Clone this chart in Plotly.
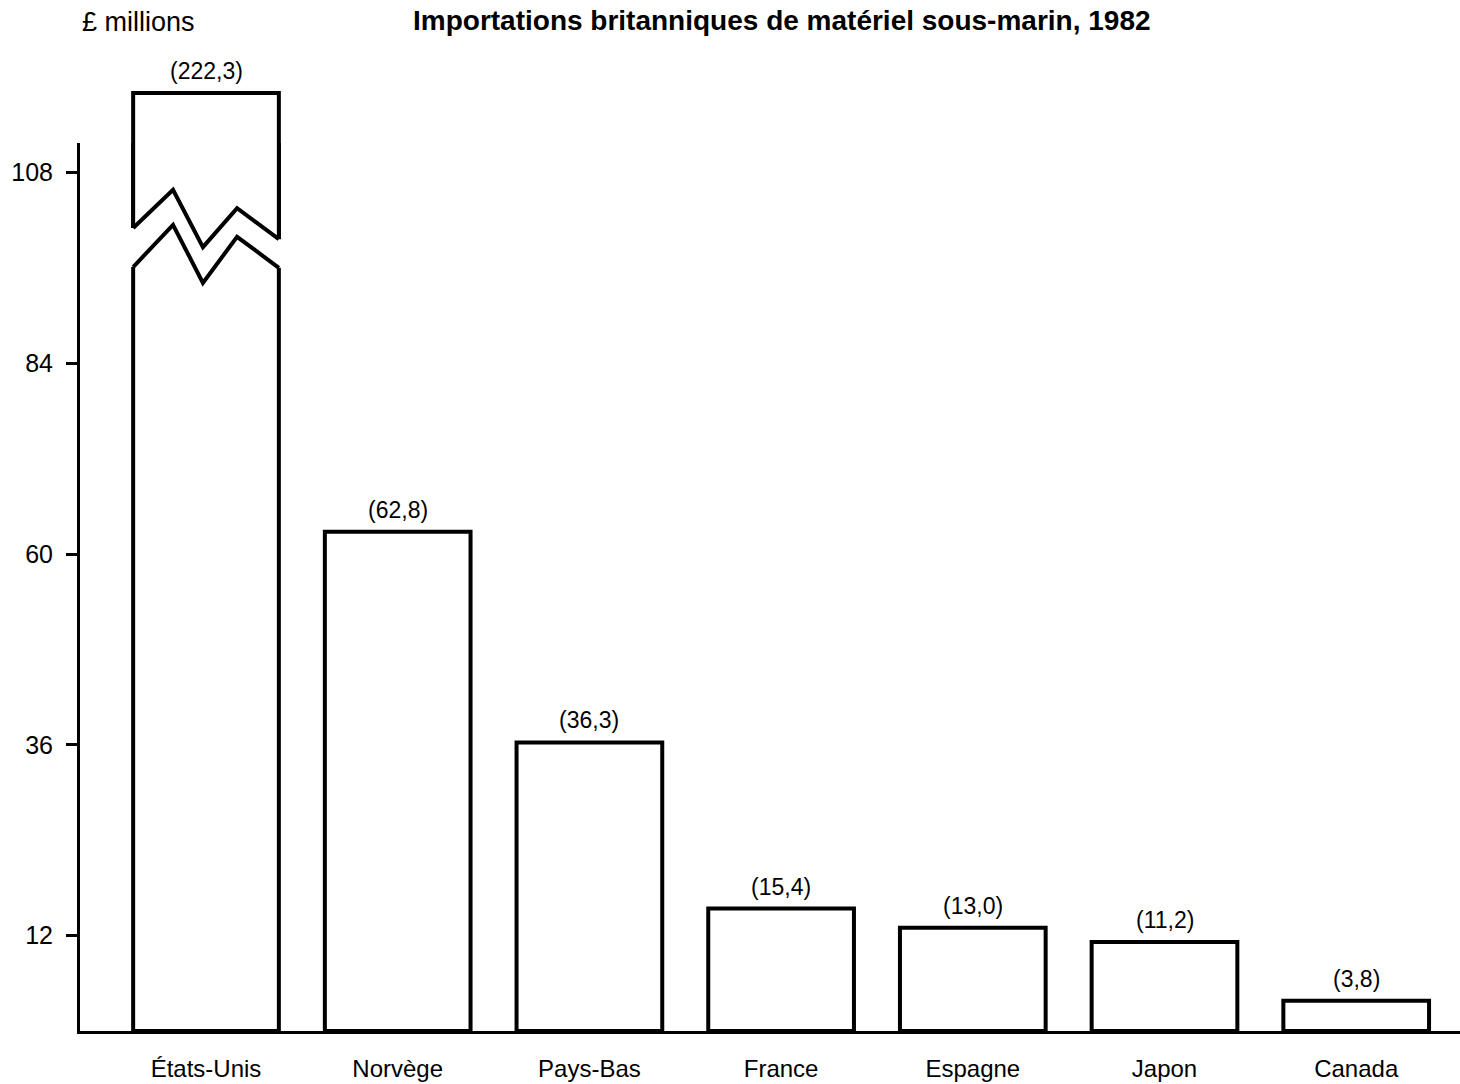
import plotly.graph_objects as go

# ---- data -------------------------------------------------------------
countries = ["États-Unis", "Norvège", "Pays-Bas", "France", "Espagne", "Japon", "Canada"]
values = [222.3, 62.8, 36.3, 15.4, 13.0, 11.2, 3.8]
value_labels = ["(222,3)", "(62,8)", "(36,3)", "(15,4)", "(13,0)", "(11,2)", "(3,8)"]
y_ticks = [12, 36, 60, 84, 108]

# ---- page geometry ------------------------------------------------------
W, H = 1460, 1084
M_L, M_R, M_T, M_B = 80, 0, 60, 53
PLOT_H = H - M_T - M_B
PX_PER_UNIT = 7.95          # vertical scale of the value axis
BAR_W = 0.76
FONT = "Liberation Sans, Arial, sans-serif"

def py_to_paper(py):
    return (H - M_B - py) / PLOT_H

# lower (main) axis: from the baseline up to the top of the axis line
low_top_px = 143
low_dom = [0, py_to_paper(low_top_px)]
low_range = [0, (H - M_B - low_top_px) / PX_PER_UNIT]

# upper axis: shows only the top of the broken first bar
up_bottom_px = 252
up_dom = [py_to_paper(up_bottom_px), 1]
first_top_px = 93
up_top_val = values[0] + (first_top_px - M_T) / PX_PER_UNIT
up_range = [up_top_val - (up_bottom_px - M_T) / PX_PER_UNIT, up_top_val]

idx = list(range(len(countries)))
bar_style = dict(color="white", line=dict(color="black", width=4))

fig = go.Figure()
fig.add_trace(go.Bar(x=idx, y=values, width=BAR_W, marker=bar_style,
                     xaxis="x", yaxis="y", hoverinfo="skip"))
fig.add_trace(go.Bar(x=idx[:1], y=values[:1], width=BAR_W, marker=bar_style,
                     xaxis="x", yaxis="y2", hoverinfo="skip"))

# ---- break marks on the first bar (zigzag cut) ---------------------------
half = BAR_W / 2
zx = [-half, -0.172, -0.016, 0.162, half]
upper_cut = [101.0, 105.8, 98.6, 103.5, 99.6]
lower_cut = [96.1, 101.4, 94.1, 99.9, 96.0]

ext = 0.03
gap_x = [zx[0] - ext] + zx + [zx[-1] + ext]
gap_up = [upper_cut[0]] + upper_cut + [upper_cut[-1]]
gap_lo = [lower_cut[0]] + lower_cut + [lower_cut[-1]]
pts = list(zip(gap_x, gap_up)) + list(zip(gap_x[::-1], gap_lo[::-1]))
gap_path = "M " + " L ".join(f"{x},{y}" for x, y in pts) + " Z"
fig.add_shape(type="path", path=gap_path, xref="x", yref="y",
              fillcolor="white", line=dict(width=0), layer="above")
for cut in (upper_cut, lower_cut):
    p = "M " + " L ".join(f"{x},{y}" for x, y in zip(zx, cut))
    fig.add_shape(type="path", path=p, xref="x", yref="y",
                  line=dict(color="black", width=4), layer="above")

# ---- value labels above bars -------------------------------------------
label_font = dict(family=FONT, size=23, color="black")
for i, (v, t) in enumerate(zip(values, value_labels)):
    fig.add_annotation(x=i, y=v, xref="x", yref="y2" if i == 0 else "y",
                       text=t, showarrow=False, yanchor="bottom", yshift=7,
                       font=label_font)

# ---- headings -----------------------------------------------------------
fig.add_annotation(x=0, y=py_to_paper(22), xref="paper", yref="paper",
                   xanchor="left", yanchor="middle", xshift=0,
                   text="£ millions", showarrow=False,
                   font=dict(family=FONT, size=27, color="black"))
fig.add_annotation(x=(782 - M_L) / (W - M_L - M_R), y=py_to_paper(21), xref="paper", yref="paper",
                   xanchor="center", yanchor="middle",
                   text="<b>Importations britanniques de matériel sous-marin, 1982</b>",
                   showarrow=False,
                   font=dict(family=FONT, size=28, color="black"))

# ---- axes ---------------------------------------------------------------
x_left = (M_L - 206) / 191.7
x_right = (W - 206) / 191.7
fig.update_layout(
    width=W, height=H,
    margin=dict(l=M_L, r=M_R, t=M_T, b=M_B, autoexpand=False),
    paper_bgcolor="white", plot_bgcolor="rgba(0,0,0,0)",
    showlegend=False, barmode="overlay",
    font=dict(family=FONT, color="black"),
    xaxis=dict(range=[x_left, x_right], tickvals=idx, ticktext=countries,
               showgrid=False, zeroline=False, showline=True, linecolor="black",
               linewidth=3, ticks="", ticklabelstandoff=14, automargin=False,
               tickfont=dict(size=24), fixedrange=True),
    yaxis=dict(domain=low_dom, range=low_range, tickvals=y_ticks,
               showgrid=False, zeroline=False, showline=True, linecolor="black",
               linewidth=3, ticks="outside", ticklen=11, tickwidth=3,
               tickcolor="black", tickfont=dict(size=25), anchor="x",
               ticklabelstandoff=8, automargin=False, fixedrange=True),
    yaxis2=dict(domain=up_dom, range=up_range, visible=False, anchor="x",
                showgrid=False, zeroline=False, fixedrange=True),
)

fig.write_html("out.html")
